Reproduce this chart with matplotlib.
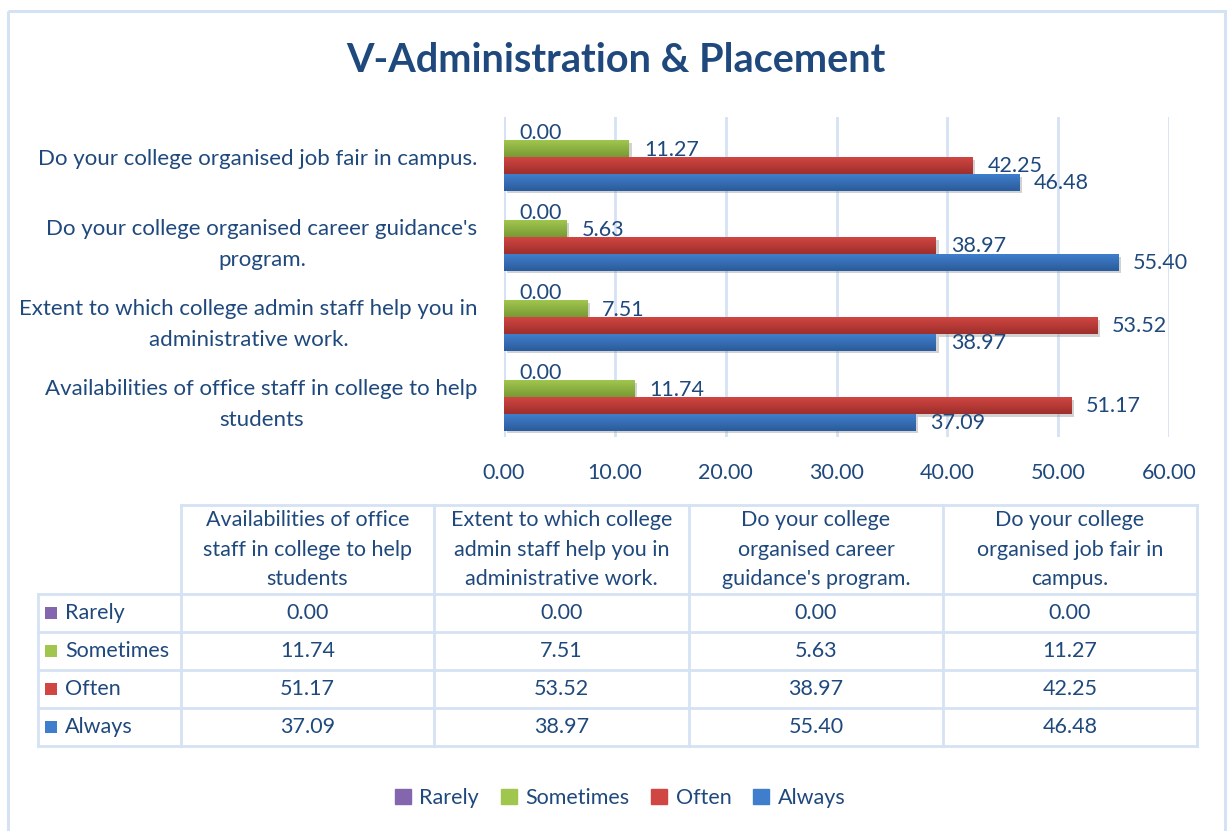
import numpy as np
import matplotlib
matplotlib.use("Agg")
import matplotlib.pyplot as plt
from matplotlib.colors import LinearSegmentedColormap
from matplotlib.patches import Rectangle
import matplotlib.patheffects as pe

# data
categories = [
    "Availabilities of office staff in college to help\nstudents",
    "Extent to which college admin staff help you in\nadministrative work.",
    "Do your college organised career guidance's\nprogram.",
    "Do your college organised job fair in campus.",
]
table_headers = [
    "Availabilities of office\nstaff in college to help\nstudents",
    "Extent to which college\nadmin staff help you in\nadministrative work.",
    "Do your college\norganised career\nguidance's program.",
    "Do your college\norganised job fair in\ncampus.",
]
series = ["Rarely", "Sometimes", "Often", "Always"]
rarely = [0.00, 0.00, 0.00, 0.00]
sometimes = [11.74, 7.51, 5.63, 11.27]
often = [51.17, 53.52, 38.97, 42.25]
always = [37.09, 38.97, 55.40, 46.48]
values = [rarely, sometimes, often, always]
xticks = [0, 10, 20, 30, 40, 50, 60]

# colours (top of gradient, bottom of gradient)
grads = [("#8466AE", "#5E4785"),
         ("#A0C64E", "#789A34"),
         ("#D04642", "#9E2F2C"),
         ("#3F7ECC", "#2B5C9C")]
txt = "#1F497D"
grid = "#D5E2F3"
font = "Lato"
fs = 15.5

plt.rcParams['font.family'] = [font, 'DejaVu Sans']

W, H = 1227, 831
fig = plt.figure(figsize=(W / 100, H / 100), dpi=100)

# background axes in pixel coordinates for border / table
bg = fig.add_axes([0, 0, 1, 1])
bg.set_xlim(0, W)
bg.set_ylim(H, 0)
bg.axis('off')
bg.add_patch(Rectangle((8, 11), 1217, 830, fill=False, ec=grid, lw=2.2))

ax = fig.add_axes([504 / W, 1 - 437 / H, 665 / W, 320 / H])
ax.set_zorder(2)
ax.patch.set_alpha(0)

y = np.arange(len(categories))
h = 0.21
offsets = [0.315, 0.105, -0.105, -0.315]

for vals, off, (c1, c2), name in zip(values, offsets, grads, series):
    cmap = LinearSegmentedColormap.from_list(name, [c2, c1])
    bars = ax.barh(y + off, vals, height=h, color=c1, lw=0, zorder=3,
                   path_effects=[pe.SimplePatchShadow(offset=(2, -2), shadow_rgbFace='gray', alpha=0.35),
                                 pe.Normal()])
    for b, v in zip(bars, vals):
        if v > 0:
            grad = np.linspace(0, 1, 50).reshape(-1, 1)
            im = ax.imshow(grad, cmap=cmap, aspect='auto', origin='lower',
                           extent=[0, v, b.get_y(), b.get_y() + h], zorder=4)
            im.set_clip_path(b)
        ax.annotate(f"{v:.2f}", (v, b.get_y() + h / 2), xytext=(15, -1),
                    textcoords='offset pixels', va='center', ha='left',
                    fontsize=fs, color=txt, zorder=5, annotation_clip=False)

ax.set_xlim(0, 60)
ax.set_ylim(-0.5, 3.5)
ax.set_xticks(xticks)
ax.set_xticklabels([f"{t:.2f}" for t in xticks], fontsize=fs, color=txt)
ax.set_yticks(y)
ax.set_yticklabels(categories, fontsize=16, color=txt, multialignment='center',
                   linespacing=1.7)
ax.tick_params(length=0)
ax.tick_params(axis='y', pad=19)
ax.tick_params(axis='x', pad=19)
ax.grid(axis='x', color=grid, lw=2, zorder=0)
for s in ax.spines.values():
    s.set_visible(False)
ax.axvline(0, color=grid, lw=2, zorder=1)

fig.text(616 / W, 1 - 61 / H, "V-Administration & Placement", ha='center', va='center',
         fontsize=28.5, fontweight='bold', color=txt)

# table
col_edges = [38, 181, 434, 689, 943, 1197]
row_edges = [505, 594, 632, 670, 708, 746]
lw = 2
# header row (no corner cell)
bg.plot([181, 1197], [505, 505], color=grid, lw=lw)
for x in col_edges[1:]:
    bg.plot([x, x], [505, 746], color=grid, lw=lw)
bg.plot([38, 38], [594, 746], color=grid, lw=lw)
for r in row_edges[1:]:
    bg.plot([38, 1197], [r, r], color=grid, lw=lw)

for j, head in enumerate(table_headers):
    cx = (col_edges[j + 1] + col_edges[j + 2]) / 2
    bg.text(cx, (505 + 594) / 2, head, ha='center', va='center', fontsize=fs,
            color=txt, linespacing=1.62)

for i, (name, vals, (c1, c2)) in enumerate(zip(series, values, grads)):
    cy = (row_edges[i + 1] + row_edges[i + 2]) / 2
    bg.add_patch(Rectangle((45, cy - 6), 12, 12, color=c1, lw=0))
    bg.text(65, cy, name, ha='left', va='center', fontsize=fs, color=txt)
    for j, v in enumerate(vals):
        cx = (col_edges[j + 1] + col_edges[j + 2]) / 2
        bg.text(cx, cy, f"{v:.2f}", ha='center', va='center', fontsize=fs, color=txt)

# legend
handles = [Rectangle((0, 0), 1, 1, color=c1) for c1, _ in grads]
fig.legend(handles, series, loc='center', bbox_to_anchor=(620 / W, 1 - 798 / H), ncol=4,
           frameon=False, fontsize=fs, labelcolor=txt, handlelength=0.75, handleheight=0.75,
           handletextpad=0.4, columnspacing=1.0)

fig.savefig("out.png", dpi=100)
